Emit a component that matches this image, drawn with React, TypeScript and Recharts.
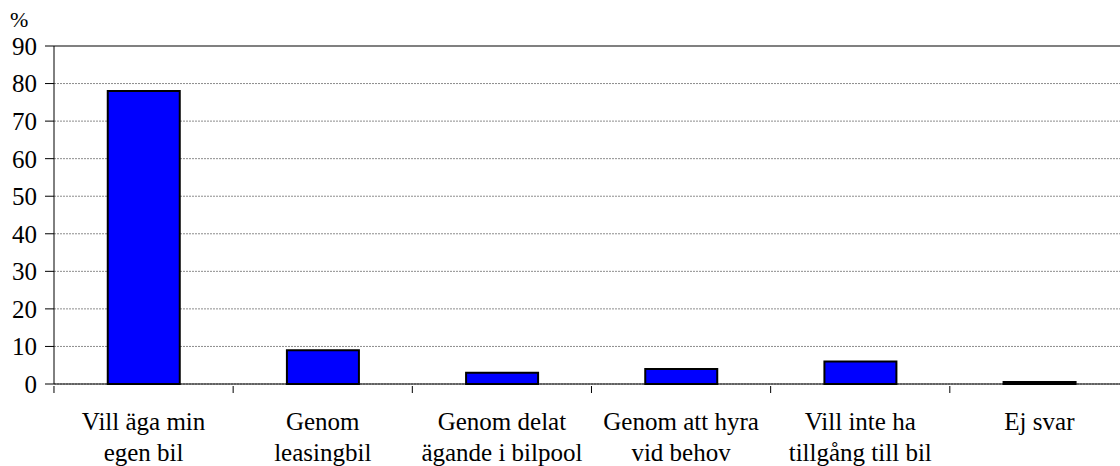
import React from 'react';
import { BarChart, Bar, XAxis, YAxis, CartesianGrid, ReferenceLine } from 'recharts';

const categories = [
    'Vill äga min\negen bil',
    'Genom\nleasingbil',
    'Genom delat\nägande i bilpool',
    'Genom att hyra\nvid behov',
    'Vill inte ha\ntillgång till bil',
    'Ej svar',
];
const percentValues = [78, 9, 3, 4, 6, 0.5];
const yTicks = [0, 10, 20, 30, 40, 50, 60, 70, 80, 90];

const data = categories.map((name, i) => ({ name, value: percentValues[i] }));

const FONT = 'Liberation Serif';
const BAND = 179.2;

// Two-line category label plus a tick mark at the left edge of each band
const CategoryTick = (props: any) => {
    const { x, y, payload } = props;
    const lines = String(payload.value).split('\n');
    const left = x - BAND / 2;
    return (
        <g>
            <line x1={left} y1={y - 6} x2={left} y2={y + 1} stroke="#000" strokeWidth={1} />
            <text x={x} y={y} textAnchor="middle" style={{ fontFamily: FONT }} fontSize={25} fill="#000">
                {lines.map((line, i) => (
                    <tspan key={i} x={x} dy={i === 0 ? 38 : 31}>{line}</tspan>
                ))}
            </text>
        </g>
    );
};

const App: React.FC = () => {
    return (
        <div style={{ position: 'absolute', left: 0, top: 0, width: 1120, height: 466, overflow: 'hidden', background: '#fff', fontFamily: FONT }}>
            <BarChart
                width={1132}
                height={466}
                data={data}
                barCategoryGap="30%"
                margin={{ top: 46, right: 3, left: 0, bottom: 0 }}
            >
                <CartesianGrid vertical={false} stroke="#8c8c8c" strokeDasharray="2 1" />
                <ReferenceLine y={90} stroke="#808080" strokeWidth={2} />
                <XAxis
                    dataKey="name"
                    interval={0}
                    height={82}
                    axisLine={{ stroke: '#000', strokeWidth: 1 }}
                    tickLine={false}
                    tick={<CategoryTick />}
                />
                <YAxis
                    domain={[0, 90]}
                    ticks={yTicks}
                    width={54}
                    tickSize={9}
                    tickMargin={8}
                    axisLine={{ stroke: '#000', strokeWidth: 1 }}
                    tickLine={{ stroke: '#000' }}
                    tick={{ fontFamily: FONT, fontSize: 25, fill: '#000' }}
                    label={() => (
                        <text x={10} y={27} style={{ fontFamily: FONT }} fontSize={22} fill="#000">%</text>
                    )}
                />
                <Bar dataKey="value" fill="#0000ff" stroke="#000" strokeWidth={2} isAnimationActive={false} />
            </BarChart>
        </div>
    );
};

export default App;
